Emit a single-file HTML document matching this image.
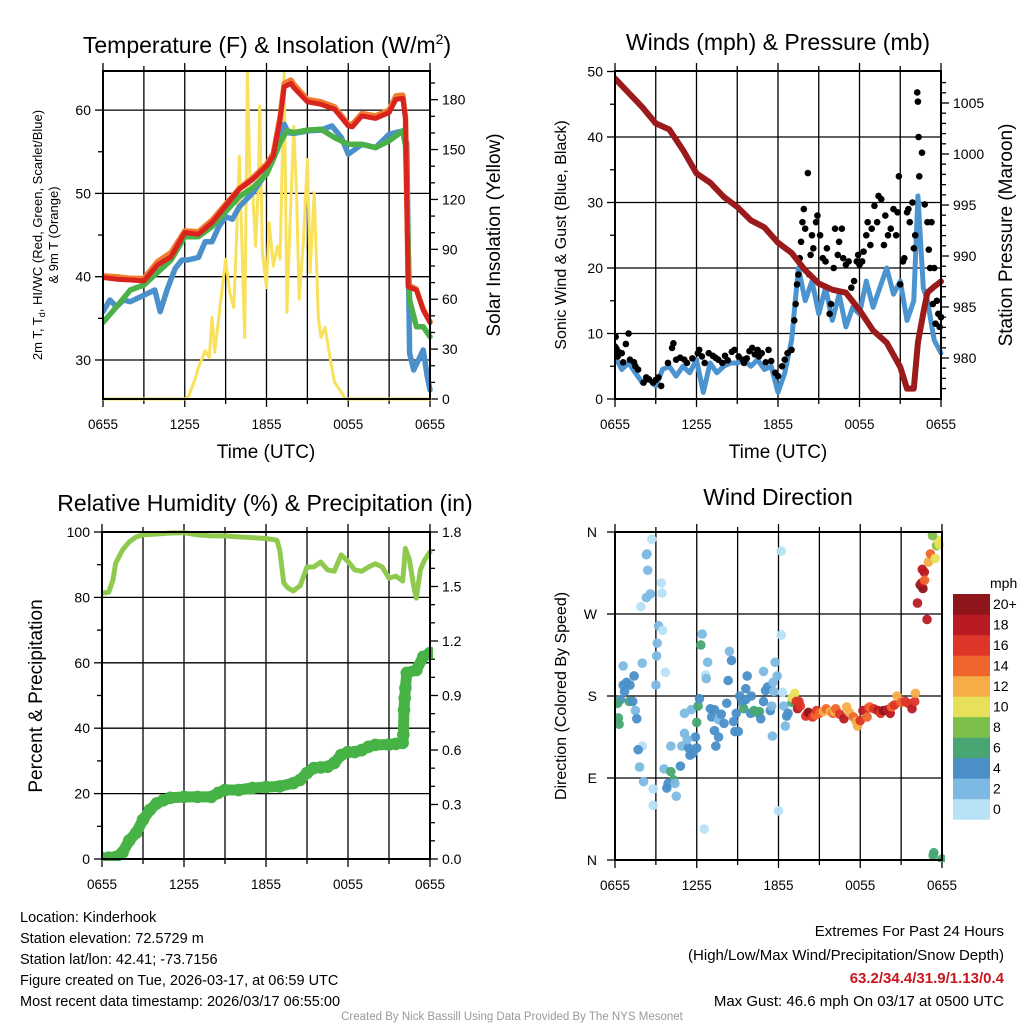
<!DOCTYPE html>
<html><head><meta charset="utf-8"><style>
html,body{margin:0;padding:0;background:#fff;}
svg{display:block;font-family:"Liberation Sans",Arial,sans-serif;}
</style></head><body>
<svg id="fig" width="1024" height="1024" viewBox="0 0 1024 1024" xmlns="http://www.w3.org/2000/svg">
<rect width="1024" height="1024" fill="#fff"/>
<g id="layer"></g>
<text x="267" y="53" font-size="23" text-anchor="middle">Temperature (F) &amp; Insolation (W/m<tspan font-size="14" dy="-9">2</tspan><tspan dy="9">)</tspan></text>
<text x="778" y="50" font-size="23" text-anchor="middle">Winds (mph) &amp; Pressure (mb)</text>
<text x="265" y="511" font-size="23" text-anchor="middle">Relative Humidity (%) &amp; Precipitation (in)</text>
<text x="778" y="505" font-size="23" text-anchor="middle">Wind Direction</text>
<text x="266" y="458" font-size="19" text-anchor="middle">Time (UTC)</text>
<text x="778" y="458" font-size="19" text-anchor="middle">Time (UTC)</text>
<text transform="translate(42,235) rotate(-90)" font-size="13" text-anchor="middle">2m T, T<tspan font-size="9" dy="3">d</tspan><tspan dy="-3">, HI/WC (Red, Green, Scarlet/Blue)</tspan></text>
<text transform="translate(58,235) rotate(-90)" font-size="13" text-anchor="middle">&amp; 9m T (Orange)</text>
<text transform="translate(500,235) rotate(-90)" font-size="19" text-anchor="middle">Solar Insolation (Yellow)</text>
<text transform="translate(566,235) rotate(-90)" font-size="16" text-anchor="middle">Sonic Wind &amp; Gust (Blue, Black)</text>
<text transform="translate(1012,235) rotate(-90)" font-size="19" text-anchor="middle">Station Pressure (Maroon)</text>
<text transform="translate(42,696) rotate(-90)" font-size="19" text-anchor="middle">Percent &amp; Precipitation</text>
<text transform="translate(566,696) rotate(-90)" font-size="16" text-anchor="middle">Direction (Colored By Speed)</text>
<text x="990" y="588" font-size="14">mph</text>
<g font-size="14.5">
<text x="20" y="922">Location: Kinderhook</text>
<text x="20" y="943">Station elevation: 72.5729 m</text>
<text x="20" y="964">Station lat/lon: 42.41; -73.7156</text>
<text x="20" y="985">Figure created on Tue, 2026-03-17, at 06:59 UTC</text>
<text x="20" y="1006">Most recent data timestamp: 2026/03/17 06:55:00</text>
</g>
<g font-size="15" text-anchor="end">
<text x="1004" y="936">Extremes For Past 24 Hours</text>
<text x="1004" y="960">(High/Low/Max Wind/Precipitation/Snow Depth)</text>
<text x="1004" y="983" fill="#c8161d" font-weight="bold">63.2/34.4/31.9/1.13/0.4</text>
<text x="1004" y="1006">Max Gust: 46.6 mph On 03/17 at 0500 UTC</text>
</g>
<text x="512" y="1020" font-size="11.5" fill="#999" text-anchor="middle">Created By Nick Bassill Using Data Provided By The NYS Mesonet</text>
</svg>
<script>
// ---- data ----
const timeLabels = ["0655","1255","1855","0055","0655"];
const tempHours = [0,1,2,3,4,5,6,7,8,9,10,11,12,12.5,13,13.3,13.8,14,15,16,17,18,18.3,19,20,21,21.5,22,22.2,22.4,23,23.5,24];
const tempRed   = [39.9,39.7,39.6,39.5,41.4,42.4,45.3,45.1,46.5,48.5,50.5,51.7,53.3,54.5,58.9,62.8,63.2,62.7,61,60.7,60.1,58.1,58,59.3,59,59.7,61.3,61.4,58.9,38.8,38.4,36,34.5];
const tempOrange= [40.1,40.0,39.8,39.8,41.8,42.9,45.5,45.4,46.8,48.7,50.6,51.9,53.5,54.8,59.2,63.2,63.6,63.1,61.3,61,60.4,58.3,58.3,59.6,59.3,60,61.7,61.8,59.2,39,38.5,36.1,34.6];
const dewHours = [0,1,2,3,4,5,6,7,8,9,10,11,12,12.5,13,13.5,14,15,16,17,18,19,20,21,22,22.2,22.5,23,23.5,24];
const dewGreen = [34.5,36.4,38.4,39,40.5,42,44.8,44.8,46,47.8,49.6,50.7,52.3,54.1,56.1,57.5,57.3,57.6,57.7,56.7,55.9,55.9,55.5,56.3,57.5,55.7,37.2,34,34,32.8];
const hiHours = [0,0.5,1,1.5,2,3.8,4.2,4.7,5.3,5.8,6.2,7,7.5,8,8.5,9,9.5,10,11,12,13,13.3,13.6,14,15,16,16.8,17.5,18,19,20,21,22,22.3,22.5,22.8,23.5,23.8,24];
const hiBlue  = [35.8,37.2,36.4,37.2,37.0,38.4,35.8,38.4,41,42,42,42.3,44.2,44.2,46,47.2,46.9,48.4,50.1,52.5,56.1,58.3,57.3,57.2,57.5,57.6,58.1,56.7,54.7,55.9,55.5,57.1,57.5,56,30.8,28.8,31.2,28,26.4];
const solarHours = [0,6,6.3,6.8,7,7.5,7.8,8,8.2,8.5,9,9.3,9.6,9.8,10,10.2,10.4,10.6,10.8,11,11.2,11.4,11.5,11.7,12,12.2,12.5,12.8,13,13.3,13.5,13.7,14,14.2,14.4,14.7,15,15.2,15.5,15.8,16,16.3,16.7,17,17.5,17.8,24];
const solarVals  = [0,0,2,13,19,29,25,49,28,49,84,64,55,96,146,92,37,196,128,122,92,128,176,88,67,106,80,92,84,196,52,100,164,124,60,94,144,76,124,49,37,43,23,10,4,0,0];
const presHours = [0,1,2,3,4,5,6,7,8,9,10,11,12,13,14,15,16,17,18,19,20,21,21.5,22,22.3,22.7,23,23.5,24];
const presVals  = [1007.4,1006,1004.6,1003,1002.4,1000.4,998.1,997.2,995.8,994.8,993.5,992.8,991.3,990.3,988.6,987.3,986.7,986.4,984.7,982.7,981.5,979.1,977,977,981.5,984.4,986.4,987,987.5];
const windHours = [0,0.5,1,1.5,2,2.5,3,3.5,4,4.5,5,5.5,6,6.5,7,7.5,8,8.5,9,9.5,10,10.5,11,11.5,12,12.5,13,13.5,14,14.5,15,15.5,16,16.5,17,17.5,18,18.5,19,19.5,20,20.5,21,21.5,22,22.3,22.7,23,23.5,24];
const windVals  = [6.5,4.5,5.5,4,2.5,3,2,4.5,5,3.5,5,4,6,1,5.5,4,5,5.5,5.5,6,5,6,4.5,5,1,4,9,20,15,18,13,17,12,16,11,14,13,18,14,17,20,16,18,12,15,31,17,15,9,7];
const gustHours = [0,0.05,0.1,0.2,0.25,0.5,0.6,0.8,1.0,1.1,1.4,1.5,1.7,2.1,2.3,2.5,2.8,3.0,3.2,3.4,3.9,4.2,4.3,4.5,4.8,5.1,5.3,5.7,6.1,6.2,6.4,6.6,6.9,7.2,7.4,7.6,7.9,8.1,8.3,8.6,8.8,9.1,9.4,9.5,9.7,9.9,10.1,10.3,10.5,10.6,10.8,11.1,11.3,11.5,11.8,12.0,12.3,12.5,12.7,13.0,13.2,13.3,13.4,13.5,13.6,13.7,13.8,13.9,14.0,14.2,14.3,14.4,14.5,14.6,14.8,14.9,15.1,15.3,15.5,15.6,15.8,15.9,16.1,16.2,16.4,16.5,16.7,16.8,17.0,17.2,17.4,17.6,17.8,17.9,18.0,18.2,18.3,18.5,18.6,18.8,18.9,19.1,19.3,19.4,19.6,19.8,19.9,20.1,20.3,20.5,20.7,20.8,20.9,21.0,21.2,21.3,21.5,21.6,21.7,21.9,22.0,22.1,22.25,22.3,22.35,22.4,22.6,22.8,23.0,23.1,23.2,23.3,23.4,23.5,23.6,23.7,23.8,23.9,24.0];
const gustVals  = [8,9.5,7.7,6.5,7.2,7,5.6,8.4,10,6,5.6,5,4.5,2.5,3.3,3,2.5,2.9,3.3,2,5.5,7.8,8.5,6,6.3,6,5.5,6.2,7,7.5,6.5,5.5,7,6.6,6.3,6,5.5,6.6,5.9,7.2,7.5,6.5,6,5.5,6.2,7.3,7.8,6.8,7.5,6.5,7,5.6,7.5,5.8,4,3.5,5,6,7,7.5,12,14.5,17.5,19,21.5,24,27,29,26,34.5,19,22,25,23,27,28,25,21.5,21,23,13,14.5,20,26,22,24,26,21.5,20.5,21,17,18,21,22,20.5,21,22.5,25,27,23.5,26,29.5,27,31,30.5,23.5,28,25,26,29,25,28.5,34,17.5,21,21.5,28.5,29,27,30,23,25,46.8,45.4,40,34,37.6,29.7,27,22.8,20,27,14.5,20,11.5,15,13,11,12.5];
const rhHours = [0,0.5,0.8,1,1.5,2,2.5,3,4,5,6,7,8,9,10,11,12,12.8,13,13.3,13.6,14,14.5,15,15.5,16,16.5,17,17.5,18,18.5,19,19.5,20,20.5,21,21.5,22,22.2,22.5,22.8,23,23.3,23.6,24];
const rhVals  = [81.3,81.6,85.3,90.5,94.5,97,98.5,99.1,99.4,99.7,99.8,99.1,98.8,98.8,98.5,98.3,98,97.5,94.5,84.4,82.9,82,83.6,89.3,89.3,90.8,88.4,88,93,91,88.4,88,89.3,90.3,89.3,85.9,86.5,85,95,91.4,83.6,79.8,88.4,91.4,93.9];
const precipHours = [0,0.5,1,1.5,2,2.5,3,3.5,4,4.5,5,6,7,8,8.5,9,10,11,12,13,14,14.5,15,15.5,16,16.5,17,17.5,18,18.5,19,19.5,20,21,21.5,22,22.05,22.1,22.15,22.2,22.3,23,23.5,24];
const precipPct   = [0.3,0.4,0.6,2,5.7,8,12,15,17,18,18.7,19,19,19,20.2,21.1,21.1,21.7,22,22.2,23.2,24.2,26.3,27.8,28,28.2,29.4,31.8,32.7,32.7,33.3,34.3,34.9,35,35.2,35.5,38,45.6,49.2,52.3,56.9,57.8,61.8,63];
const dirHours = [2.7,2.3,2.35,2.4,3.4,3.45,2.6,2.3,1.9,3.2,3.5,3.1,3.06,3.7,3.0,0.6,2.0,1.4,0.85,0.6,1.1,0.7,0.4,0,0.2,1.05,1.3,1.5,1.6,0.25,0.3,2.0,1.7,1.8,2.1,2.8,2.8,3.6,4.1,4.3,3.9,3.8,4.4,4.5,4.8,4.1,4.9,5.4,5.5,5.7,6.0,5.9,5.1,5.3,5.1,5.6,6.0,6.1,6.2,6.55,6.3,6.4,6.8,6.65,6.7,7.0,7.3,7.1,7.6,7.8,8.0,7.3,7.6,7.4,8.2,8.3,8.4,8.55,8.7,8.8,9.05,8.9,9.15,9.35,9.45,9.6,9.6,9.7,10.0,9.95,10.2,10.4,10.6,10.7,10.9,10.9,11.05,11.2,11.4,11.5,11.55,11.65,11.75,11.9,11.6,12.2,12.2,12.3,12.0,12.4,12.6,12.5,12.7,13.0,13.2,13.0,13.3,13.4,13.5,13.6,14,14.1,14.2,14.5,14.7,14.8,15,15.3,15.5,15.8,16,16.1,16.2,16.5,16.8,17,17.2,17.5,17.7,17.8,18,18.2,18.5,18.6,18.7,19,19.3,19.5,19.7,20,20.2,20.3,20.5,20.7,21,21.3,21.5,21.8,22,22.05,22.9,22.2,22.4,22.6,22.5,22.7,22.55,22.72,23.0,23.15,23.5,23.6,23.7,23.8,23.3,23.4,23.35,24];
const dirDeg   = [352,335,336,318,304,293,292,288,278,257,252,238,224,206,192,213,216,202,195,192,192,185,176,172,172,174,174,164,155,156,149,125,121,102,86,78,60,100,97,88,84,79,84,70,103,125,125,123,115,117,123,135,139,132,161,165,151,169,177,34,236,248,217,203,199,166,165,157,154,160,150,142,135,125,172,197,229,219,152,141,141,161,180,173,166,176,188,202,180,161,164,162,163,155,174,207,186,190,164,169,136,185,217,202,195,339,247,184,54,169,158,147,161,173,183,178,174,166,174,169,158,160,162,157,159,164,161,163,166,163,161,163,166,160,155,168,162,157,152,147,153,164,157,167,168,166,164,161,164,165,161,168,170,180,173,174,172,166,174,183,264,282,302,298,304,316,319,307,327,336,331,345,351,346,356,8,5,1,12];
const dirSpeed = [1,2.5,2.5,3,1.5,1.5,3,3,1.5,3,1.5,3,3,1.5,3,3,3,5,5,5,5,5,5,5,7,7,5,3,5,7,7,1.5,5,3,3,1.5,1.5,3,7,7,5,5,3,3,5,3,3,5,5,5,5,5,3,3,3,3,7,7,5,1.5,7,3,3,1.5,3,5,5,5,3,5,5,5,5,5,5,5,3,5,5,5,5,5,5,5,7,5,5,5,5,5,7,7,7,5,5,3,5,5,5,3,3,3,3,3,3,1.5,1.5,1.5,1.5,3,5,3,5,7,10.5,10,17,19,17,17,17,16,20,17,14,17,15,13,15,13,15,12,15,17,19,13,13,15,13,13,16,19,15,17,14,17,18,17,20,19,19,15,17,12,14,17,17,19,17,12,19,19,20,20,19,18,19,15,13,14,11,8,10,10,8,7,7,7,7];
const speedBinLabels = ["0","2","4","6","8","10","12","14","16","18","20+"];
const speedBinColors = ["#b7e2f7","#7db9e3","#4a8fc8","#47a672","#7cbf4a","#e7e15a","#f6ad48","#f0652c","#dd3527","#b81b22","#8e1519"];

// ---- helpers ----
const NS = "http://www.w3.org/2000/svg";
const layer = document.getElementById("layer");
function mk(tag, attrs, parent){ const e=document.createElementNS(NS,tag); for(const k in attrs) e.setAttribute(k,attrs[k]); (parent||layer).appendChild(e); return e; }
function panelX(p,h){ return p.x0 + h/24*(p.x1-p.x0); }
const P1={x0:103,x1:430,y0:71,y1:399,yl:v=>360-(v-30)*8.33,yr:v=>399-v*1.663};
const P2={x0:615,x1:941,y0:71,y1:399,yl:v=>399-v*6.55,yr:p=>358-(p-980)*10.2};
const P3={x0:102,x1:430,y0:532,y1:859,yl:v=>859-v*3.27,yr:v=>859-v/0.018*3.27};
const P4={x0:615,x1:942,y0:532,y1:860,yl:d=>860-d*82/90};

function frame(p,name,hGrid){
  const g=mk("g",{});
  
  
  for(let i=1;i<8;i++){ const x=p.x0+i*(p.x1-p.x0)/8; mk("line",{x1:x,x2:x,y1:p.y0,y2:p.y1,stroke:"#000","stroke-width":1.3},g); }
  hGrid.forEach(y=>mk("line",{x1:p.x0,x2:p.x1,y1:y,y2:y,stroke:"#000","stroke-width":1.3},g));
  for(let i=0;i<=8;i++){ const x=p.x0+i*(p.x1-p.x0)/8; mk("line",{x1:x,x2:x,y1:p.y1,y2:p.y1+(i%2==0?8:5),stroke:"#000","stroke-width":1.3},g); mk("line",{x1:x,x2:x,y1:p.y0,y2:p.y0-(i%2==0?8:5),stroke:"#000","stroke-width":1.3},g); }
  timeLabels.forEach((t,i)=>{ const tx=mk("text",{x:p.x0+i*(p.x1-p.x0)/4,y:p.y1+30,"font-size":13.5,"text-anchor":"middle"},g); tx.textContent=t;
    
     });
  return g;
}
function border(p){ mk("rect",{x:p.x0,y:p.y0,width:p.x1-p.x0,height:p.y1-p.y0,fill:"none",stroke:"#000","stroke-width":2}); }
function ticks(p,vals,fn,side,labels,major,g){
  vals.forEach((v,i)=>{ const y=fn(v); if(y<p.y0-0.5||y>p.y1+0.5) return;
    const x=side=="l"?p.x0:p.x1, L=major[i]?8:5, d=side=="l"?-1:1;
    mk("line",{x1:x,x2:x+d*L,y1:y,y2:y,stroke:"#000","stroke-width":1.3},g);
    if(labels[i]!==""){ const t=mk("text",{x:x+d*12,y:y+5,"font-size":14,"text-anchor":side=="l"?"end":"start"},g); t.textContent=labels[i];
      
       } });
}
function line(p,hs,vs,fn,color,w,name){
  let d="",pen=false;
  hs.forEach((h,i)=>{ if(vs[i]==null){pen=false;return;} d+=(pen?"L":"M")+panelX(p,h).toFixed(1)+","+fn(vs[i]).toFixed(1); pen=true; });
  const e=mk("path",{d:d,fill:"none",stroke:color,"stroke-width":w,"stroke-linejoin":"round","stroke-linecap":"round","clip-path":"url(#"+p.clip+")"});
  
  
  return e;
}
const defs=mk("defs",{});
[P1,P2,P3,P4].forEach((p,i)=>{ p.clip="clip"+i; const c=mk("clipPath",{id:p.clip},defs); mk("rect",{x:p.x0,y:p.y0-2,width:p.x1-p.x0+3,height:p.y1-p.y0+4},c); });

// ---- Panel 1 ----
let g1=frame(P1,"temp",[30,40,50,60].map(P1.yl));
line(P1,solarHours,solarVals,P1.yr,"#f9e15c",3,"solar-insolation-line");
line(P1,hiHours,hiBlue,P1.yl,"#4b90cb",5.5,"heat-index-wind-chill-line");
line(P1,dewHours,dewGreen,P1.yl,"#4cb049",5.5,"dewpoint-line");
line(P1,tempHours,tempOrange,P1.yl,"#f27c30",5.5,"temp-9m-line");
line(P1,tempHours,tempRed,P1.yl,"#d8231f",5,"temp-2m-line");
border(P1);
ticks(P1,[25,30,35,40,45,50,55,60,65],P1.yl,"l",["","30","","40","","50","","60",""],[0,1,0,1,0,1,0,1,0],g1);
ticks(P1,[0,10,20,30,40,50,60,70,80,90,100,110,120,130,140,150,160,170,180,190],P1.yr,"r",
  ["0","","","30","","","60","","","90","","","120","","","150","","","180",""],[1,0,0,1,0,0,1,0,0,1,0,0,1,0,0,1,0,0,1,0],g1);

// ---- Panel 2 ----
let g2=frame(P2,"wind",[10,20,30,40].map(P2.yl));
line(P2,windHours,windVals,P2.yl,"#4b94d0",5,"sonic-wind-line");
const gg=mk("g",{"clip-path":"url(#"+P2.clip+")"});


gustHours.forEach((h,i)=>{ const c=mk("circle",{cx:panelX(P2,h),cy:P2.yl(gustVals[i]),r:3.3,fill:"#000"},gg);
  
   });
line(P2,presHours,presVals,P2.yr,"#9b1a1c",6,"station-pressure-line");
border(P2);
ticks(P2,[0,5,10,15,20,25,30,35,40,45,50],P2.yl,"l",["0","","10","","20","","30","","40","","50"],[1,0,1,0,1,0,1,0,1,0,1],g2);
const pv=[],pl=[],pm=[]; for(let p=977;p<=1007;p++){ pv.push(p); pl.push(p%5==0?String(p):""); pm.push(p%5==0?1:0); }
ticks(P2,pv,P2.yr,"r",pl,pm,g2);

// ---- Panel 3 ----
let g3=frame(P3,"rh",[20,40,60,80].map(P3.yl));
line(P3,rhHours,rhVals,P3.yl,"#8fca4f",5,"relative-humidity-line");
line(P3,precipHours,precipPct,P3.yl,"#47b347",11,"precipitation-line");
const pg=mk("g",{"clip-path":"url(#"+P3.clip+")"});


precipHours.forEach((h,i)=>{ const c=mk("circle",{cx:panelX(P3,h),cy:P3.yl(precipPct[i]),r:6.3,fill:"#47b347"},pg);
  
   });
border(P3);
ticks(P3,[0,10,20,30,40,50,60,70,80,90,100],P3.yl,"l",["0","","20","","40","","60","","80","","100"],[1,0,1,0,1,0,1,0,1,0,1],g3);
const rv=[],rl=[],rm=[]; for(let k=0;k<=18;k++){ rv.push(k/10); rl.push(k%3==0?(k/10).toFixed(1):""); rm.push(k%3==0?1:0); }
ticks(P3,rv,P3.yr,"r",rl,rm,g3);

// ---- Panel 4 ----
let g4=frame(P4,"direction",[90,180,270].map(P4.yl));
const dg=mk("g",{"clip-path":"url(#"+P4.clip+")"});


function binColor(s){ return speedBinColors[Math.min(10,Math.floor(s/2))]; }
dirHours.forEach((h,i)=>{ const c=mk("circle",{cx:panelX(P4,h),cy:P4.yl(dirDeg[i]),r:4.8,fill:binColor(dirSpeed[i]),"fill-opacity":0.95},dg);
  
   });
border(P4);
const dirLbl=[["N",360],["W",270],["S",180],["E",90],["N",0]];
dirLbl.forEach(a=>{ const y=P4.yl(a[1]); mk("line",{x1:P4.x0,x2:P4.x0-8,y1:y,y2:y,stroke:"#000","stroke-width":1.3},g4);
  const t=mk("text",{x:P4.x0-18,y:y+5,"font-size":14,"text-anchor":"end"},g4); t.textContent=a[0];
  
   });
// colorbar
const cb=mk("g",{});


speedBinColors.forEach((c,i)=>{ const y=594+(10-i)*20.5; const r=mk("rect",{x:953,y:y,width:37,height:20.7,fill:c},cb);
  
  
  const t=mk("text",{x:993,y:y+15,"font-size":14},cb); t.textContent=speedBinLabels[i];
  
   });
</script>
</body></html>
